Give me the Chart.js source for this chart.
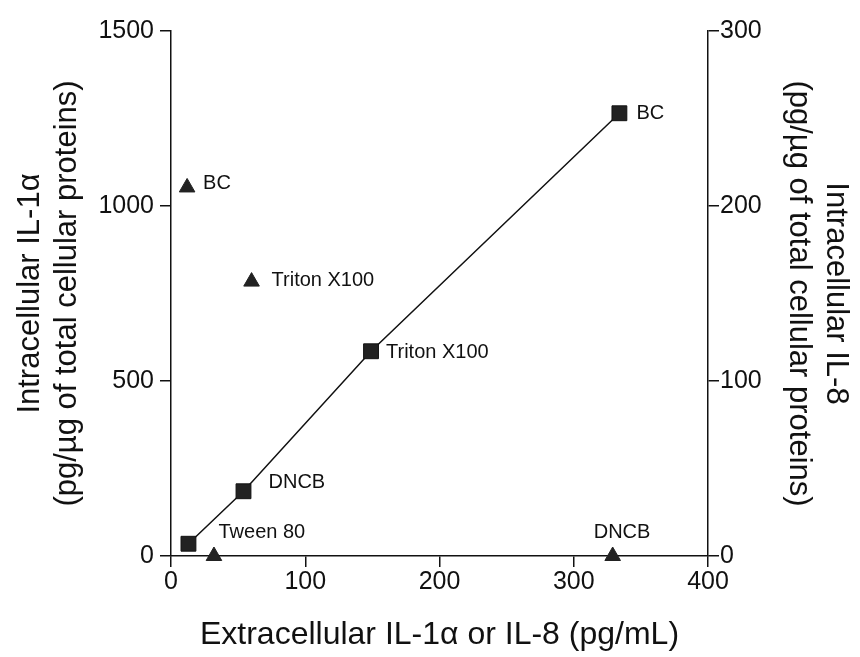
<!DOCTYPE html>
<html>
<head>
<meta charset="utf-8">
<script src="https://cdn.jsdelivr.net/npm/chart.js@4.4.0/dist/chart.umd.min.js"></script>
<style>
  body { margin: 0; background: #fff; }
</style>
</head>
<body>
<canvas id="mycanvas" width="860" height="657"></canvas>
<script>
// squares, joined by a line (right axis, IL-8)
const squareX = [13, 54, 149, 334];
const squareY = [7, 37, 117, 253];
const squareLabels = ['Tween 80', 'DNCB', 'Triton X100', 'BC'];

// triangles (left axis, IL-1a)
const triangleX = [12, 60, 32, 329];
const triangleY = [1053, 784, 0, 0];
const triangleLabels = ['BC', 'Triton X100', '', 'DNCB'];

const xTicks = [0, 100, 200, 300, 400];
const leftTicks = [0, 500, 1000, 1500];
const rightTicks = [0, 100, 200, 300];

const FONT = '"Liberation Sans", Arial, sans-serif';

function toPoints(xs, ys) {
    const pts = [];
    for (var i in xs) {
        pts.push({ x: xs[i], y: ys[i] });
    }
    return pts;
}

// where each label sits relative to its point
const squareOffsets = [[30, -11], [25, -9], [15, 1], [17, 0]];
const triangleOffsets = [[16, -4], [20, -1], [0, 0], [-19, -24]];

const pointLabels = {
    id: 'pointLabels',
    afterDatasetsDraw(chart) {
        const ctx = chart.ctx;
        ctx.save();
        ctx.font = '20px ' + FONT;
        ctx.fillStyle = '#111';
        ctx.textAlign = 'left';
        ctx.textBaseline = 'middle';
        const sets = [[0, squareLabels, squareOffsets], [1, triangleLabels, triangleOffsets]];
        sets.forEach(function(s) {
            const meta = chart.getDatasetMeta(s[0]);
            meta.data.forEach(function(el, i) {
                if (!s[1][i]) return;
                ctx.fillText(s[1][i], el.x + s[2][i][0], el.y + s[2][i][1]);
            });
        });
        ctx.restore();
    }
};

const axisGrid = {
    drawOnChartArea: false,
    drawTicks: true,
    tickLength: 11,
    color: '#111',
    lineWidth: 1.5
};

const plain = function(v) { return String(v); };

new Chart(document.getElementById('mycanvas'), {
    type: 'scatter',
    data: {
        datasets: [
            {
                label: 'IL-8',
                data: toPoints(squareX, squareY),
                yAxisID: 'y2',
                showLine: true,
                borderColor: '#111',
                borderWidth: 1.5,
                pointStyle: 'rect',
                pointRadius: 10.5,
                pointBackgroundColor: '#222',
                pointBorderColor: '#111',
                pointBorderWidth: 1,
                clip: false
            },
            {
                label: 'IL-1a',
                data: toPoints(triangleX, triangleY),
                yAxisID: 'y',
                showLine: false,
                pointStyle: 'triangle',
                pointRadius: 9,
                pointBackgroundColor: '#222',
                pointBorderColor: '#222',
                pointBorderWidth: 1,
                clip: false
            }
        ]
    },
    options: {
        responsive: false,
        animation: false,
        devicePixelRatio: 1,
        layout: { padding: { top: 31, left: 0, right: 0, bottom: 0 } },
        plugins: {
            legend: { display: false },
            tooltip: { enabled: false }
        },
        scales: {
            x: {
                type: 'linear',
                min: 0,
                max: 400,
                afterBuildTicks: function(axis) { axis.ticks = xTicks.map(v => ({ value: v })); },
                afterFit: function(axis) { axis.height = 101; },
                grid: axisGrid,
                border: { color: '#111', width: 1.5 },
                ticks: { color: '#111', font: { family: FONT, size: 25 }, padding: 0, maxRotation: 0, callback: plain },
                title: {
                    display: true,
                    text: 'Extracellular IL-1\u03b1 or IL-8 (pg/mL)',
                    color: '#111',
                    font: { family: FONT, size: 32, lineHeight: 1.2 },
                    padding: { top: 0, bottom: 3 }
                }
            },
            y: {
                position: 'left',
                min: 0,
                max: 1500,
                afterBuildTicks: function(axis) { axis.ticks = leftTicks.map(v => ({ value: v })); },
                afterFit: function(axis) { axis.width = 171; },
                grid: axisGrid,
                border: { color: '#111', width: 1.5 },
                ticks: { color: '#111', font: { family: FONT, size: 25 }, padding: 6, callback: plain },
                title: {
                    display: true,
                    text: ['Intracellular IL-1\u03b1', '(pg/\u00b5g of total cellular proteins)'],
                    color: '#111',
                    font: { family: FONT, size: 31, lineHeight: 1.2 },
                    padding: { top: 12, bottom: 0 }
                }
            },
            y2: {
                position: 'right',
                min: 0,
                max: 300,
                afterBuildTicks: function(axis) { axis.ticks = rightTicks.map(v => ({ value: v })); },
                afterFit: function(axis) { axis.width = 152; },
                grid: axisGrid,
                border: { color: '#111', width: 1.5 },
                ticks: { color: '#111', font: { family: FONT, size: 25 }, padding: 1, callback: plain },
                title: {
                    display: true,
                    text: ['Intracellular IL-8', '(pg/\u00b5g of total cellular proteins)'],
                    color: '#111',
                    font: { family: FONT, size: 31, lineHeight: 1.2 },
                    padding: { top: 6, bottom: 0 }
                }
            }
        }
    },
    plugins: [pointLabels]
});
</script>
</body>
</html>
